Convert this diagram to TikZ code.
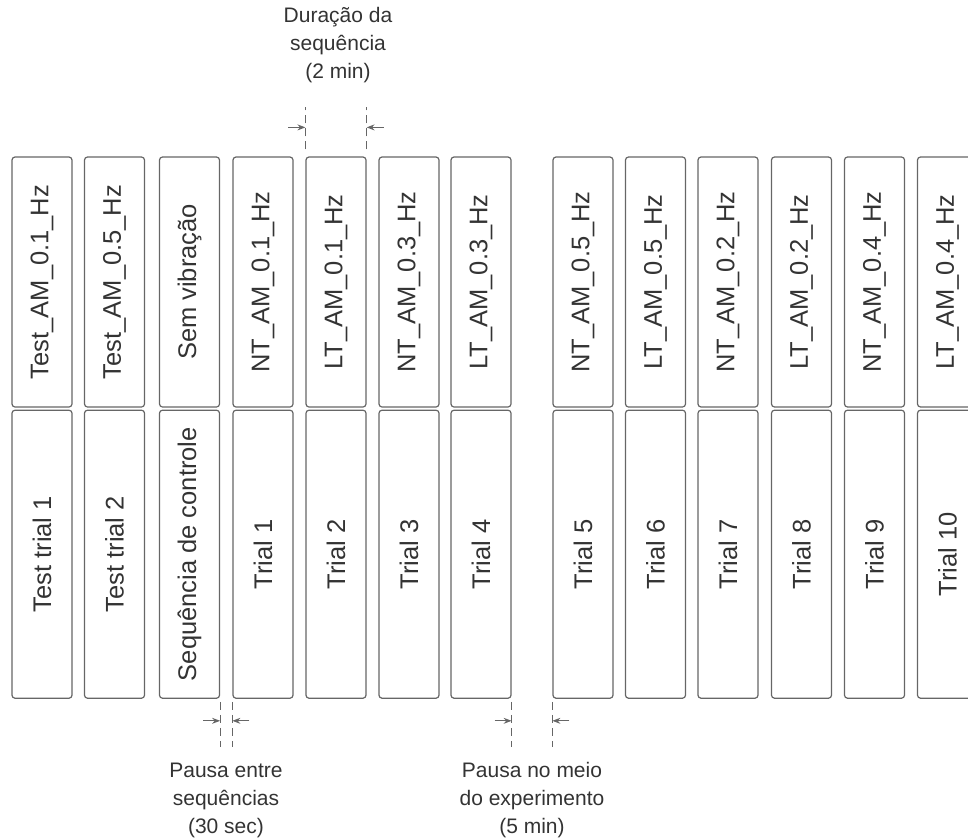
\documentclass[tikz,border=0pt]{standalone}
\usepackage{fontspec}
\setmainfont{Liberation Sans}
\usetikzlibrary{positioning,arrows.meta,calc}
\definecolor{expcinza}{HTML}{666666}
\definecolor{exptexto}{HTML}{333333}
\tikzset{
  expbloco/.style={draw=expcinza, line width=1.2pt, rounded corners=3pt, minimum width=60pt,
                  inner sep=0pt, text=exptexto, font=\fontsize{25.5}{30}\selectfont},
  expsup/.style={expbloco, minimum height=250pt},
  expinf/.style={expbloco, minimum height=288pt},
  expcota/.style={draw=expcinza, line width=1pt, dash pattern=on 8pt off 5pt},
  expseta/.style={-{Stealth[length=8pt, width=6pt]}, draw=expcinza, line width=1pt},
  exprotulo/.style={align=center, text=exptexto, font=\fontsize{21}{28}\selectfont},
}

\begin{document}
\begin{tikzpicture}[x=1pt, y=-1pt]
        \useasboundingbox (0,0) rectangle (968,838);
        % sequencias (condicao em cima, trial embaixo)
        \foreach \xc/\rotsup/\rotinf/\i in {
            42/Test\_AM\_0.1\_Hz/Test trial 1/1,
            114.5/Test\_AM\_0.5\_Hz/Test trial 2/2,
            189.5/Sem vibração/Sequência de controle/3,
            263/NT\_AM\_0.1\_Hz/Trial 1/4,
            336/LT\_AM\_0.1\_Hz/Trial 2/5,
            409/NT\_AM\_0.3\_Hz/Trial 3/6,
            481/LT\_AM\_0.3\_Hz/Trial 4/7,
            583/NT\_AM\_0.5\_Hz/Trial 5/8,
            655.5/LT\_AM\_0.5\_Hz/Trial 6/9,
            728/NT\_AM\_0.2\_Hz/Trial 7/10,
            801.5/LT\_AM\_0.2\_Hz/Trial 8/11,
            874.5/NT\_AM\_0.4\_Hz/Trial 9/12,
            947.5/LT\_AM\_0.4\_Hz/Trial 10/13} {
            \node[expsup] (t\i) at (\xc,282) {\rotatebox{90}{\rotsup}};
            \node[expinf, below=2pt of t\i] (b\i) {\rotatebox{90}{\rotinf}};
        }
        % cota da duracao da sequencia
        \coordinate (ds1) at ($(t5.north west)+(-17,-29)$);
        \coordinate (ds2) at ($(t5.north east)+(17,-29)$);
        \draw[expcota] ($(t5.north west)+(0,-7)$) -- ++(0,-42);
        \draw[expcota] ($(t5.north east)+(0,-7)$) -- ++(0,-42);
        \draw[expseta] (ds1) -- (ds1 -| t5.west);
        \draw[expseta] (ds2) -- (ds2 -| t5.east);
        \node[exprotulo] (duracao) at (338,45) {Duração da\\sequência\\(2 min)};
        % pausa entre sequencias
        \coordinate (pe1) at ($(b3.south east)+(-17,22)$);
        \coordinate (pe2) at ($(b4.south west)+(17,22)$);
        \draw[expcota] ($(b3.south east)+(0,3)$) -- ++(0,45);
        \draw[expcota] ($(b4.south west)+(0,3)$) -- ++(0,45);
        \draw[expseta] (pe1) -- (pe1 -| b3.east);
        \draw[expseta] (pe2) -- (pe2 -| b4.west);
        \node[exprotulo] (pausaentre) at (226,800) {Pausa entre\\sequências\\(30 sec)};
        % pausa no meio do experimento
        \coordinate (pm1) at ($(b7.south east)+(-17,22)$);
        \coordinate (pm2) at ($(b8.south west)+(17,22)$);
        \draw[expcota] ($(b7.south east)+(0,3)$) -- ++(0,45);
        \draw[expcota] ($(b8.south west)+(0,3)$) -- ++(0,45);
        \draw[expseta] (pm1) -- (pm1 -| b7.east);
        \draw[expseta] (pm2) -- (pm2 -| b8.west);
        \node[exprotulo] (pausameio) at (532,800) {Pausa no meio\\do experimento\\(5 min)};
    \end{tikzpicture}
\end{document}
